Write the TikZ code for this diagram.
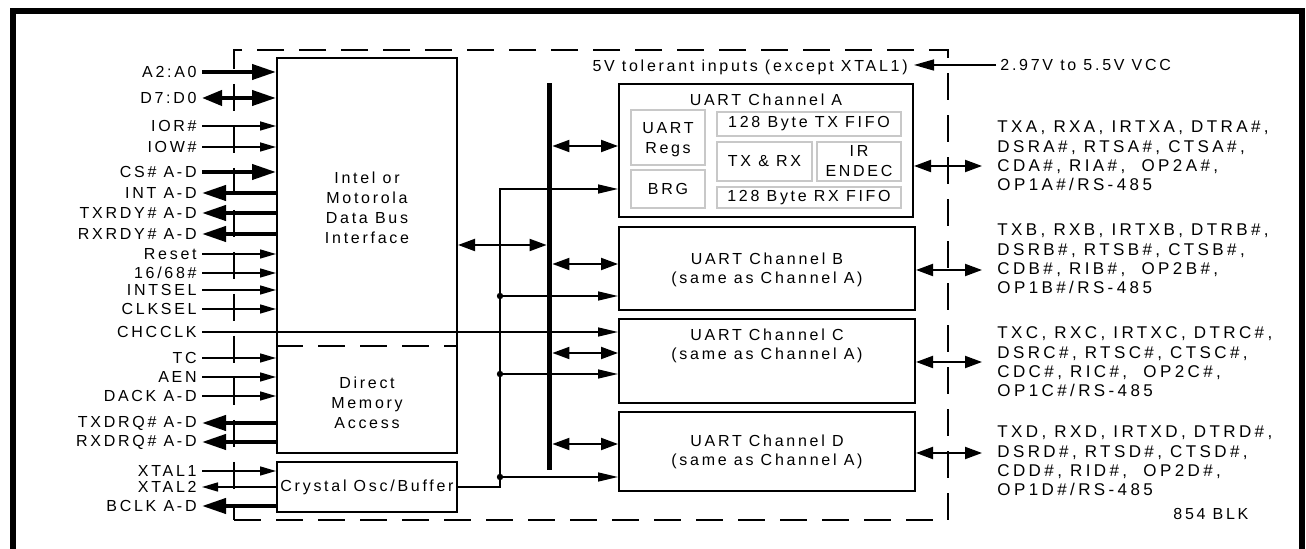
\documentclass[tikz,border=0pt]{standalone}
\usepackage{fontspec}
\setmainfont{Liberation Sans}[LetterSpace=17]
\newfontfamily\pinfamily{Liberation Sans}[LetterSpace=20]
\usepackage{tikz}
\usetikzlibrary{arrows.meta,positioning,calc,fit}
\definecolor{subgrey}{RGB}{200,200,200}
\newcommand{\blkfont}{\fontsize{8}{10}\selectfont}

\begin{document}
\begin{tikzpicture}[x=0.5pt,y=-0.5pt,
    txt/.style={font=\blkfont, inner sep=0pt, align=center},
    pinlbl/.style={font=\blkfont, inner sep=0pt, anchor=east},
    pinblk/.style={font=\pinfamily\fontsize{8.5}{9.65}\selectfont, inner sep=0pt, align=left, anchor=west},
    block/.style={rectangle, draw, line width=1pt, inner sep=0pt},
    sub/.style={rectangle, draw=subgrey, line width=0.75pt, inner sep=0pt},
    chipbox/.style={rectangle, draw, line width=0.75pt, inner sep=0pt,
        dash pattern=on 13.5pt off 7.5pt},
    divider/.style={line width=0.75pt, dash pattern=on 13.5pt off 7.5pt},
    sin/.style={-{Triangle[length=8pt,width=4.5pt]}, line width=0.75pt, shorten <=2.5pt},
    sout/.style={{Triangle[length=8pt,width=4.5pt]}-, line width=0.75pt, shorten <=2.5pt},
    bin/.style={-{Triangle[length=12pt,width=7.5pt]}, line width=2pt, shorten <=2.5pt},
    bout/.style={{Triangle[length=12pt,width=7.5pt]}-, line width=2pt, shorten <=2.5pt},
    bbio/.style={{Triangle[length=10pt,width=7.5pt]}-{Triangle[length=12pt,width=7.5pt]}, line width=2pt, shorten <=2.5pt},
    dbl/.style={{Triangle[length=8.5pt,width=6pt]}-{Triangle[length=8.5pt,width=6pt]}, line width=1pt},
    clk/.style={-{Triangle[length=10pt,width=4.5pt]}, line width=0.75pt},
    vin/.style={-{Triangle[length=10pt,width=5.5pt]}, line width=0.75pt}
]
    \useasboundingbox (0,0) rectangle (1306,549);

    % Outer frame
    \draw[line width=3pt] (13,570) -- (13,11.5) -- (1302,11.5) -- (1302,570);

    % Chip boundary
    \node[chipbox, fit={(234,50) (948,520)}] (chip) {};

    % Host interface and DMA
    \node[block, fit={(277,58) (457,453)}] (host) {};
    \draw[divider] (host.west |- 0,346) -- (host.east |- 0,346);
    \node[txt, font=\fontsize{8}{10}\selectfont] (busif) at (367,208) {Intel or\\Motorola\\Data Bus\\Interface};
    \node[txt] (dma) at (367,403) {Direct\\Memory\\Access};

    % Crystal oscillator
    \node[block, fit={(277,462) (457,512)}] (osc) {};
    \node[txt] (osclbl) at (osc) {Crystal Osc/Buffer};

    % Internal bus
    \node[fill, inner sep=0pt, fit={(547,83) (552,470)}] (bus) {};

    % UART channel A
    \node[block, fit={(619,84) (913,217)}] (uartA) {};
    \node[txt] (titleA) at (766,100) {UART Channel A};
    \node[sub, fit={(631,110) (705,165)}] (regs) {};
    \node[txt, font=\fontsize{8}{10}\selectfont] at (668,140) {UART\\Regs};
    \node[sub, fit={(631,170) (705,208)}] (brg) {};
    \node[txt] at (brg) {BRG};
    \node[sub, fit={(717,112) (901,136)}] (txfifo) {};
    \node[txt] at (txfifo) {128 Byte TX FIFO};
    \node[sub, fit={(717,142) (812,181)}] (txrx) {};
    \node[txt] at (txrx) {TX \& RX};
    \node[sub, fit={(817,142) (901,181)}] (irda) {};
    \node[txt] at (irda) {IR\\ENDEC};
    \node[sub, fit={(717,187) (901,208)}] (rxfifo) {};
    \node[txt] at (rxfifo) {128 Byte RX FIFO};

    % UART channels B to D
    \node[block, fit={(619,227) (915,310)}] (uartB) {};
    \node[txt, font=\fontsize{8}{9.5}\selectfont] at (767,269.5) {UART Channel B\\(same as Channel A)};
    \node[block, fit={(619,319) (915,403)}] (uartC) {};
    \node[txt, font=\fontsize{8}{9.5}\selectfont] at (767,346) {UART Channel C\\(same as Channel A)};
    \node[block, fit={(619,412) (915,491)}] (uartD) {};
    \node[txt, font=\fontsize{8}{9.5}\selectfont] at (767,451.5) {UART Channel D\\(same as Channel A)};

    % Host side signals
    \foreach \y/\txt/\kind [count=\i] in {72/A2:A0/bin, 98/D7:D0/bbio, 126/IOR\#/sin,
        147/IOW\#/sin, 172/CS\# A-D/bin, 193/INT A-D/bout, 213/TXRDY\# A-D/bout,
        234/RXRDY\# A-D/bout, 254/Reset/sin, 273/{16/68\#}/sin, 290/INTSEL/sin,
        309/CLKSEL/sin, 358/TC/sin, 377/AEN/sin, 396/DACK A-D/sin,
        423/TXDRQ\# A-D/bout, 442/RXDRQ\# A-D/bout} {
        \node[pinlbl] (s\i) at (197,\y) {\txt};
        \draw[\kind] (s\i.east) -- (s\i.east -| host.west);
    }
    \foreach \y/\txt/\kind [count=\i] in {471/XTAL1/sin, 487/XTAL2/sout, 506/BCLK A-D/bout} {
        \node[pinlbl] (x\i) at (197,\y) {\txt};
        \draw[\kind] (x\i.east) -- (x\i.east -| osc.west);
    }
    \node[pinlbl] (chcclk) at (197,332) {CHCCLK};
    \draw[clk, shorten <=2.5pt] (chcclk.east) -- (chcclk.east -| uartC.west);

    % Bus connections
    \draw[dbl] (host.east |- 0,245) -- (bus.west |- 0,245);
    \foreach \u/\y in {uartA/146, uartB/264, uartC/353, uartD/444}
        \draw[dbl] (bus.east |- 0,\y) -- (\u.west |- 0,\y);

    % Clock distribution
    \coordinate (ck) at (500,189);
    \draw[clk] (osc.east) -| (ck) -- (ck -| uartA.west);
    \foreach \u/\y in {uartB/296, uartC/374, uartD/477} {
        \coordinate (tap\u) at (ck |- 0,\y);
        \fill (tap\u) circle (1.6pt);
        \draw[clk] (tap\u) -- (tap\u -| \u.west);
    }

    % Supply
    \node[txt, anchor=west] (vcc) at (1000,65) {2.97V to 5.5V VCC};
    \node[txt, anchor=east] (tol) at (908,67) {5V tolerant inputs (except XTAL1)};
    \draw[vin, shorten <=2pt] (vcc.west) -- ([xshift=3pt]tol.east |- vcc.west);

    % Serial side signals
    \node[pinblk] (pinsA) at (997,156) {TXA, RXA, IRTXA, DTRA\#,\\DSRA\#, RTSA\#, CTSA\#,\\CDA\#, RIA\#,\ \ OP2A\#,\\OP1A\#/RS-485};
    \node[pinblk] (pinsB) at (997,259) {TXB, RXB, IRTXB, DTRB\#,\\DSRB\#, RTSB\#, CTSB\#,\\CDB\#, RIB\#,\ \ OP2B\#,\\OP1B\#/RS-485};
    \node[pinblk] (pinsC) at (997,362) {TXC, RXC, IRTXC, DTRC\#,\\DSRC\#, RTSC\#, CTSC\#,\\CDC\#, RIC\#,\ \ OP2C\#,\\OP1C\#/RS-485};
    \node[pinblk] (pinsD) at (997,461) {TXD, RXD, IRTXD, DTRD\#,\\DSRD\#, RTSD\#, CTSD\#,\\CDD\#, RID\#,\ \ OP2D\#,\\OP1D\#/RS-485};
    \foreach \c/\y in {A/166, B/270, C/362, D/453}
        \draw[dbl, shorten >=7.5pt] (uart\c.east |- 0,\y) -- (pins\c.west |- 0,\y);

    \node[txt, anchor=west] (figno) at (1173,514) {854 BLK};
\end{tikzpicture}
\end{document}
